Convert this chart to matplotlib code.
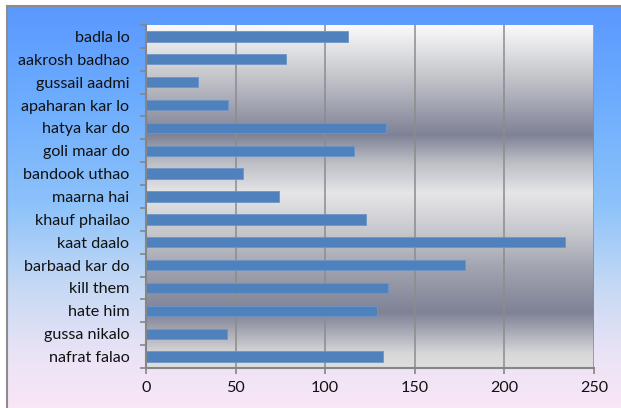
import numpy as np
import matplotlib.pyplot as plt
from matplotlib.colors import LinearSegmentedColormap
from matplotlib.lines import Line2D

categories = ["nafrat falao", "gussa nikalo", "hate him", "kill them", "barbaad kar do",
              "kaat daalo", "khauf phailao", "maarna hai", "bandook uthao", "goli maar do",
              "hatya kar do", "apaharan kar lo", "gussail aadmi", "aakrosh badhao", "badla lo"]
values = [132, 45, 129, 135, 178, 234, 123, 74, 54, 116, 134, 46, 29, 78, 113]
xticks = [0, 50, 100, 150, 200, 250]

plt.rcParams['font.family'] = ['Lato', 'DejaVu Sans']

W, H = 621, 408
fig = plt.figure(figsize=(W / 100, H / 100), dpi=100)
fig.patch.set_facecolor('white')

# outer chart background (blue -> pink gradient)
bg = fig.add_axes([7 / W, 0, 1 - 7 / W, (H - 6) / H], zorder=-10)
bg_cmap = LinearSegmentedColormap.from_list('bg', [
    (0.0, '#f9e6f6'), (0.12, '#ece4f6'), (0.3, '#c6d9f4'),
    (0.5, '#8ec3fa'), (0.75, '#6eaefe'), (1.0, '#5a98fe')])
bg.imshow(np.linspace(0, 1, 256).reshape(-1, 1), cmap=bg_cmap, aspect='auto',
          origin='lower', extent=[0, 1, 0, 1])
bg.set_xlim(0, 1)
bg.set_ylim(0, 1)
bg.axis('off')
fig.add_artist(Line2D([7 / W, 7 / W], [0, (H - 6) / H], color='#8c8c8c', lw=1.5))
fig.add_artist(Line2D([7 / W, 1], [(H - 6) / H, (H - 6) / H], color='#8c8c8c', lw=1.5))

ax = fig.add_axes([146 / W, 1 - 368 / H, (594 - 146) / W, (368 - 25) / H])
pa_cmap = LinearSegmentedColormap.from_list('pa', [
    (0.0, '#dedede'), (0.04, '#d8d8da'), (0.16, '#7f8296'), (0.3, '#a4a6b2'),
    (0.38, '#c2c3c9'), (0.51, '#e6e6e8'), (0.6, '#bcbec6'), (0.68, '#7f8296'),
    (0.85, '#c4c5cb'), (1.0, '#fafafa')])
ax.imshow(np.linspace(0, 1, 256).reshape(-1, 1), cmap=pa_cmap, aspect='auto',
          origin='lower', extent=[0, 250, -0.5, 14.5], zorder=0)

y = np.arange(len(categories))
ax.barh(y, values, height=0.45, color='#4f81bd', edgecolor='#6f95c6', lw=0.6, zorder=3)

ax.set_xlim(0, 250)
ax.set_ylim(-0.5, len(categories) - 0.5)
ax.set_xticks(xticks)
ax.set_xticklabels([str(t) for t in xticks])
ax.set_yticks(y)
ax.set_yticklabels(categories)
ax.set_yticks(np.arange(-0.5, len(categories)), minor=True)
ax.tick_params(axis='y', which='major', length=0, pad=12, labelsize=11.6, labelcolor='#111111')
ax.tick_params(axis='y', which='minor', length=4, color='#868686', width=1.2)
ax.tick_params(axis='x', length=4, color='#868686', width=1.2, pad=5,
               labelsize=11.6, labelcolor='#111111')
ax.grid(axis='x', color='#8c8c8c', lw=1.1, zorder=1)
for s in ['top', 'right']:
    ax.spines[s].set_visible(False)
for s in ['left', 'bottom']:
    ax.spines[s].set_color('#868686')
    ax.spines[s].set_linewidth(1.5)
    ax.spines[s].set_zorder(4)

fig.savefig('out.png', dpi=100)
